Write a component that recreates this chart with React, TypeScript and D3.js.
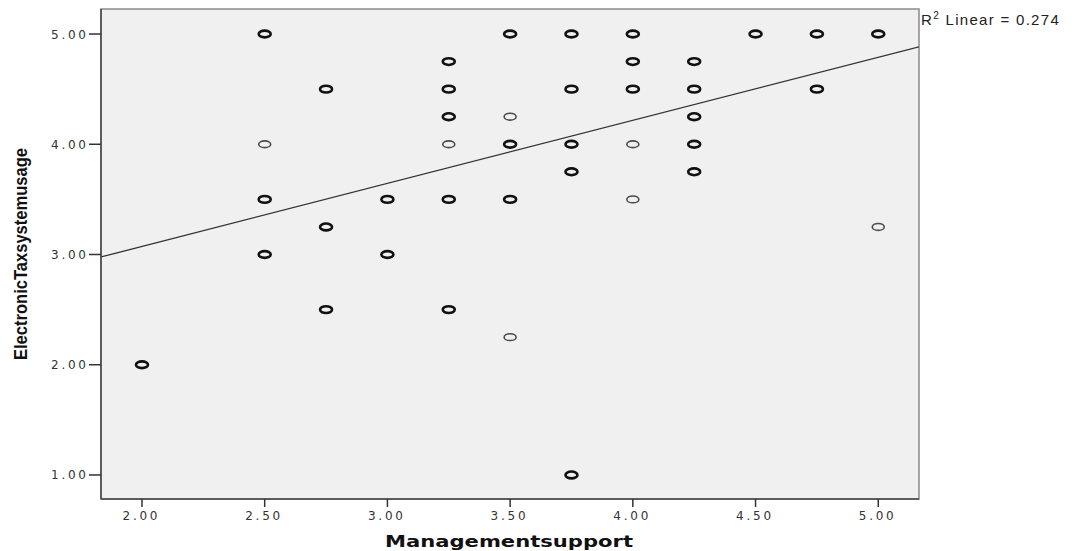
import React from "react";
import * as d3 from "d3";

// Data: x = Managementsupport, y = ElectronicTaxsystemusage, n = overlap weight (1 thin, 2 bold)
const xValues = [2.0, 2.5, 2.5, 2.5, 2.5, 2.75, 2.75, 2.75, 3.0, 3.0,
  3.25, 3.25, 3.25, 3.25, 3.25, 3.25,
  3.5, 3.5, 3.5, 3.5, 3.5,
  3.75, 3.75, 3.75, 3.75, 3.75,
  4.0, 4.0, 4.0, 4.0, 4.0,
  4.25, 4.25, 4.25, 4.25, 4.25,
  4.5, 4.75, 4.75, 5.0, 5.0];
const yValues = [2.0, 5.0, 4.0, 3.5, 3.0, 4.5, 3.25, 2.5, 3.5, 3.0,
  4.75, 4.5, 4.25, 4.0, 3.5, 2.5,
  5.0, 4.25, 4.0, 3.5, 2.25,
  5.0, 4.5, 4.0, 3.75, 1.0,
  5.0, 4.75, 4.5, 4.0, 3.5,
  4.75, 4.5, 4.25, 4.0, 3.75,
  5.0, 5.0, 4.5, 5.0, 3.25];
const weights = [2, 2, 1, 2, 2, 2, 2, 2, 2, 2,
  2, 2, 2, 1, 2, 2,
  2, 1, 2, 2, 1,
  2, 2, 2, 2, 2,
  2, 2, 2, 1, 1,
  2, 2, 2, 2, 2,
  2, 2, 2, 2, 1];

const xTicks = [2.0, 2.5, 3.0, 3.5, 4.0, 4.5, 5.0];
const yTicks = [1.0, 2.0, 3.0, 4.0, 5.0];
const fitIntercept = 1.929;
const fitSlope = 0.572;
const r2Label = "0.274";
const xTitle = "Managementsupport";
const yTitle = "ElectronicTaxsystemusage";

export default function App() {
  const W = 1076, H = 551;
  const L = 101, R = 919, T = 9, B = 499;
  const x = d3.scaleLinear().domain([1.833, 5.166]).range([L, R]);
  const y = d3.scaleLinear().domain([0.782, 5.227]).range([B, T]);
  const x0 = x.domain()[0], x1 = x.domain()[1];
  const line = d3.line<number>().x((d) => x(d)).y((d) => y(fitIntercept + fitSlope * d));
  const tickFont = "DejaVu Sans, Verdana, sans-serif";

  return (
    <svg width={W} height={H} style={{ position: "absolute", left: 0, top: 0, background: "#fff" }}>
      <rect x={L} y={T} width={R - L} height={B - T} fill="#f0f0f0" stroke="#8a8a8a" strokeWidth={1.5} />
      <defs>
        <clipPath id="plotclip">
          <rect x={L} y={T} width={R - L} height={B - T} />
        </clipPath>
      </defs>
      <path d={line([x0, x1]) || ""} stroke="#333" strokeWidth={1.3} fill="none" clipPath="url(#plotclip)" />
      {xValues.map((xv, i) => (
        <ellipse
          key={i}
          cx={x(xv)}
          cy={y(yValues[i])}
          rx={6}
          ry={3.4}
          fill="none"
          stroke={weights[i] > 1 ? "#111" : "#4a4a4a"}
          strokeWidth={weights[i] > 1 ? 2.6 : 1.6}
        />
      ))}
      {/* axes lines */}
      <line x1={L} x2={L} y1={T} y2={B} stroke="#444" strokeWidth={1.5} />
      <line x1={L} x2={R} y1={B} y2={B} stroke="#444" strokeWidth={1.5} />
      {yTicks.map((t) => (
        <g key={"y" + t}>
          <line x1={L - 12} x2={L} y1={y(t)} y2={y(t)} stroke="#333" strokeWidth={1.5} />
          <text x={86} y={y(t) + 4.5} textAnchor="end" fontFamily={tickFont} fontSize={12}
            fill="#333" textLength={35} lengthAdjust="spacing">{t.toFixed(2)}</text>
        </g>
      ))}
      {xTicks.map((t) => (
        <g key={"x" + t}>
          <line x1={x(t)} x2={x(t)} y1={B} y2={B + 8} stroke="#333" strokeWidth={1.5} />
          <text x={x(t) - 2} y={520} textAnchor="middle" fontFamily={tickFont} fontSize={12}
            fill="#333" textLength={35} lengthAdjust="spacing">{t.toFixed(2)}</text>
        </g>
      ))}
      <text x={921} y={25} fontFamily="Liberation Sans, Arial, sans-serif" fontSize={15} fill="#222" letterSpacing={1.3}>
        R<tspan dy={-6} fontSize={10}>2</tspan><tspan dy={6}> Linear = {r2Label}</tspan>
      </text>
      <text x={509} y={547} textAnchor="middle" fontFamily="DejaVu Sans, Verdana, sans-serif"
        fontWeight="bold" fontSize={16} fill="#111" textLength={248} lengthAdjust="spacingAndGlyphs">{xTitle}</text>
      <text transform={`translate(27,254) rotate(-90)`} textAnchor="middle"
        fontFamily="Liberation Sans Narrow, Arial Narrow, Liberation Sans, sans-serif"
        fontWeight="bold" fontSize={19} fill="#111" textLength={212} lengthAdjust="spacingAndGlyphs">{yTitle}</text>
    </svg>
  );
}
